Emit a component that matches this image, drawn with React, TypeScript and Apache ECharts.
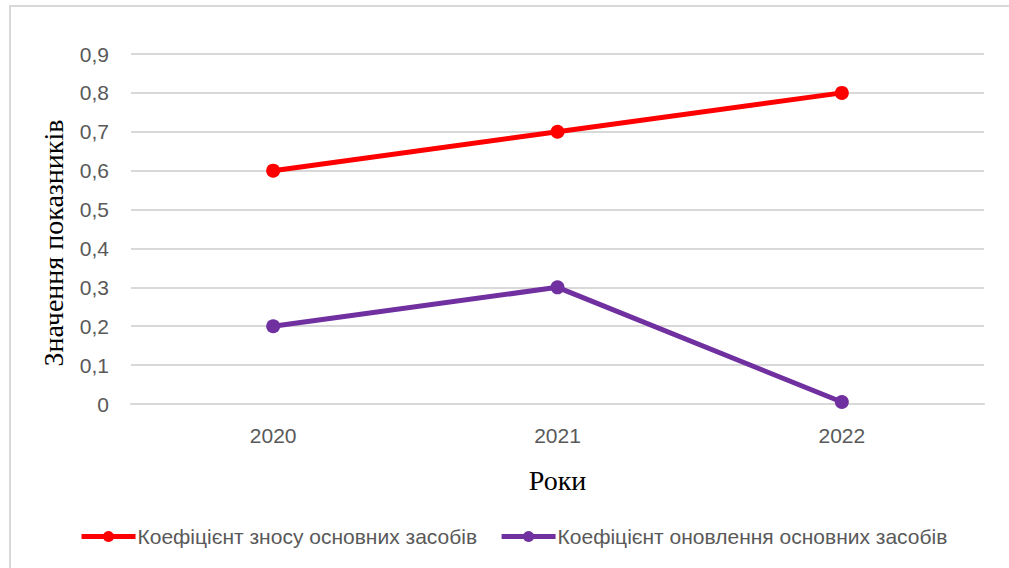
import React, { useEffect, useRef } from "react";
import * as echarts from "echarts";

const categories = ["2020", "2021", "2022"];
const wearValues = [0.6, 0.7, 0.8];
const renewValues = [0.2, 0.3, 0.005];
const seriesNames = ["Коефіцієнт зносу основних засобів", "Коефіцієнт оновлення основних засобів"];
const yAxisTitle = "Значення показників";
const xAxisTitle = "Роки";

export default function App() {
  const ref = useRef<HTMLDivElement>(null);
  useEffect(() => {
    if (!ref.current) return;
    const chart = echarts.init(ref.current, null, { renderer: "svg" });
    const tickColor = "#595959";
    const sans = "'Liberation Sans', Arial, sans-serif";
    const serif = "'Liberation Serif', 'Times New Roman', serif";
    chart.setOption({
      animation: false,
      backgroundColor: "#ffffff",
      graphic: [
        {
          type: "rect",
          shape: { x: 10, y: 6, width: 1020, height: 600 },
          style: { fill: "none", stroke: "#d9d9d9", lineWidth: 2 },
          silent: true,
        },
      ],
      grid: { left: 131, right: 25, top: 54, bottom: 164, containLabel: false },
      legend: {
        top: 521,
        left: 74,
        itemWidth: 54,
        itemHeight: 14,
        itemGap: 22,
        lineStyle: { width: 5 },
        textStyle: { color: tickColor, fontSize: 21, fontFamily: sans, padding: [0, 0, 0, -3] },
        data: seriesNames,
      },
      xAxis: {
        type: "category",
        data: categories,
        boundaryGap: true,
        name: xAxisTitle,
        nameLocation: "middle",
        nameGap: 62,
        nameTextStyle: { color: "#000000", fontSize: 28, fontFamily: serif },
        axisLine: { show: true, lineStyle: { color: "#d9d9d9", width: 2 } },
        axisTick: { show: false },
        axisLabel: { color: tickColor, fontSize: 21, fontFamily: sans, margin: 21 },
      },
      yAxis: {
        type: "value",
        min: 0,
        max: 0.9,
        interval: 0.1,
        name: yAxisTitle,
        nameLocation: "middle",
        nameGap: 64,
        nameTextStyle: { color: "#000000", fontSize: 28, fontFamily: serif, padding: [0, 0, 0, -28] },
        axisLine: { show: false },
        axisTick: { show: false },
        splitLine: { lineStyle: { color: "#d9d9d9", width: 2 } },
        axisLabel: {
          color: tickColor,
          fontSize: 21,
          fontFamily: sans,
          margin: 22,
          formatter: (v: number) => (Math.round(v * 10) / 10).toString().replace(".", ","),
        },
      },
      series: [
        {
          name: seriesNames[0],
          type: "line",
          data: wearValues,
          symbol: "circle",
          symbolSize: 14,
          lineStyle: { color: "#ff0000", width: 5 },
          itemStyle: { color: "#ff0000" },
        },
        {
          name: seriesNames[1],
          type: "line",
          data: renewValues,
          symbol: "circle",
          symbolSize: 14,
          lineStyle: { color: "#7030a0", width: 5 },
          itemStyle: { color: "#7030a0" },
        },
      ],
    });
    return () => chart.dispose();
  }, []);
  return (
    <div
      ref={ref}
      style={{ position: "absolute", left: 0, top: 0, width: 1009, height: 568 }}
    />
  );
}
